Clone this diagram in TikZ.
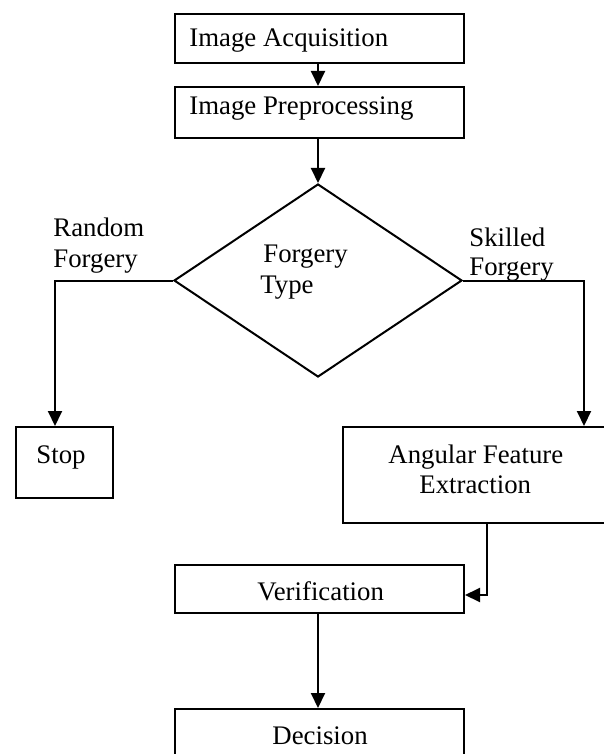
\documentclass[tikz,border=0pt]{standalone}
\usepackage{fontspec}
\setmainfont{Liberation Serif}
\usetikzlibrary{shapes.geometric,arrows.meta}
\begin{document}
\begin{tikzpicture}[x=0.5pt,y=-0.5pt,
  box/.style={draw, line width=1pt, inner sep=0pt, anchor=north west},
  txt/.style={inner sep=0pt, anchor=base west, font=\fontsize{13.4}{15}\selectfont},
  arr/.style={line width=1pt, -{Triangle[width=7pt,length=7.5pt]}}]
\useasboundingbox (0,0) rectangle (604,754);
% boxes
\node[box, minimum width=144.5pt, minimum height=24.5pt] (acq) at (174,13) {};
\node[box, minimum width=144.5pt, minimum height=25.5pt] (pre) at (174,86) {};
\node[draw, line width=1pt, diamond, inner sep=0pt, minimum width=144pt, minimum height=96.5pt] (dia) at (318,280.5) {};
\node[box, minimum width=48.5pt, minimum height=35.5pt] (stop) at (15,426) {};
\node[box, minimum width=132pt, minimum height=48pt] (ang) at (342,426) {};
\node[box, minimum width=144.5pt, minimum height=24pt] (ver) at (174,564) {};
\node[box, minimum width=144.5pt, minimum height=26pt] (dec) at (174,708) {};
% texts
\node[txt] (t1) at (189,47) {Image Acquisition};
\node[txt] (t2) at (189,115) {Image Preprocessing};
\node[txt] (t3) at (263,263) {Forgery};
\node[txt] (t4) at (260,293) {Type};
\node[txt] (t5) at (53,236) {Random};
\node[txt] (t6) at (53,267) {Forgery};
\node[txt] (t7) at (469,247) {Skilled};
\node[txt] (t8) at (469,275) {Forgery};
\node[txt] (t9) at (36,463) {Stop};
\node[txt] (t10) at (388,463) {Angular Feature};
\node[txt] (t11) at (419,493) {Extraction};
\node[txt] (t12) at (257,600) {Verification};
\node[txt] (t13) at (272,744) {Decision};
% connectors
\draw[arr] (acq.south -| dia.north) -- (pre.north -| dia.north);
\draw[arr] (pre.south -| dia.north) -- (dia.north);
\draw[arr] (dia.west) -| ([xshift=-4.75pt]stop.north);
\draw[arr] (dia.east) -| ([xshift=54.5pt]ang.north);
\draw[arr] ([xshift=6pt]ang.south) |- ([yshift=-3pt]ver.east);
\draw[arr] (ver.south -| dia.north) -- (dec.north -| dia.north);
\end{tikzpicture}
\end{document}
